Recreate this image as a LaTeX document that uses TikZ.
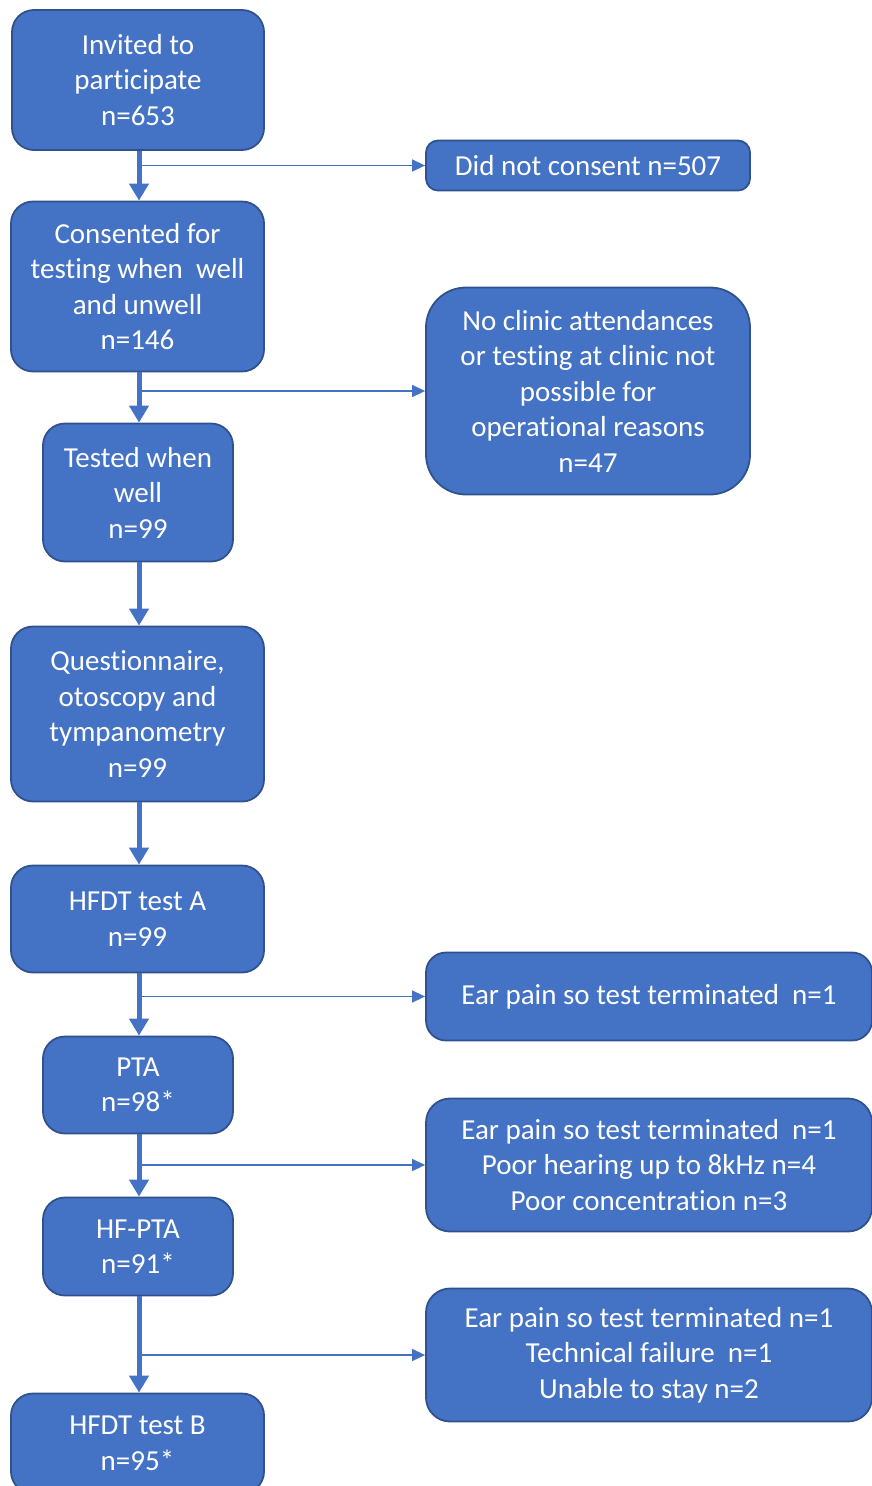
\documentclass[tikz,border=0pt]{standalone}
\usepackage{fontspec}
\setmainfont{Carlito}[Ligatures=NoCommon]
\usetikzlibrary{arrows.meta}
\definecolor{boxfill}{HTML}{4472C4}
\definecolor{boxedge}{HTML}{2F528F}
\begin{document}
\begin{tikzpicture}[x=1pt,y=-1pt,
  box/.style={draw=boxedge, fill=boxfill, line width=1.8pt, text=white,
    align=center, inner sep=0pt, rounded corners=#1,
    font=\fontsize{29}{35.5}\selectfont},
  box/.default=22pt,
  mainflow/.style={draw=boxfill, line width=5pt,
    -{Triangle[width=19pt,length=17pt]}},
  sideflow/.style={draw=boxfill, line width=1.6pt,
    -{Triangle[width=12pt,length=13pt]}}]
\useasboundingbox (0,0) rectangle (872,1486);
\clip (0,0) rectangle (872,1486);

% main column
\node[box, minimum width=252pt, minimum height=140pt] (invited) at (138,80)
  {Invited to\\participate\\n=653};
\node[box, minimum width=253pt, minimum height=170pt] (consented) at (137.5,286.5)
  {Consented for\\testing when\ \ well\\and unwell\\n=146};
\node[box, minimum width=190pt, minimum height=138pt] (tested) at (138,492.5)
  {Tested when\\well\\n=99};
\node[box, minimum width=253pt, minimum height=175pt] (quest) at (137.5,714)
  {Questionnaire,\\otoscopy and\\tympanometry\\n=99};
\node[box, minimum width=253pt, minimum height=107pt] (hfdta) at (137.5,919)
  {HFDT test A\\n=99};
\node[box, minimum width=190pt, minimum height=97pt] (pta) at (138,1085)
  {PTA\\n=98*};
\node[box, minimum width=190pt, minimum height=98pt] (hfpta) at (138,1246.5)
  {HF-PTA\\n=91*};
\node[box, minimum width=253pt, minimum height=100pt] (hfdtb) at (137.5,1443.5)
  {HFDT test B\\n=95*};

% exclusions
\node[box=12pt, minimum width=324pt, minimum height=50pt] (nocons) at (588,165.5)
  {Did not consent n=507};
\node[box=40pt, minimum width=324pt, minimum height=207pt] (noclinic) at (588,391)
  {No clinic attendances\\or testing at clinic not\\possible for\\operational reasons\\n=47};
\node[box=20pt, minimum width=446pt, minimum height=88pt] (ear1) at (649,996.5)
  {Ear pain so test terminated\ \ n=1};
\node[box=24pt, minimum width=446pt, minimum height=133pt] (ear2) at (649,1165)
  {Ear pain so test terminated\ \ n=1\\Poor hearing up to 8kHz n=4\\Poor concentration n=3};
\node[box=24pt, minimum width=446pt, minimum height=133pt] (ear3) at (649,1355)
  {Ear pain so test terminated n=1\\Technical failure\ \ n=1\\Unable to stay n=2};

% main flow
\draw[mainflow] ([xshift=1pt]invited.south) -- ([xshift=1pt]consented.north -| invited.south);
\draw[mainflow] ([xshift=1pt]consented.south -| tested.north) -- ([xshift=1pt]tested.north);
\draw[mainflow] ([xshift=1pt]tested.south) -- ([xshift=1pt]quest.north -| tested.south);
\draw[mainflow] ([xshift=1pt]quest.south -| tested.south) -- ([xshift=1pt]hfdta.north -| tested.south);
\draw[mainflow] ([xshift=1pt]hfdta.south -| pta.north) -- ([xshift=1pt]pta.north);
\draw[mainflow] ([xshift=1pt]pta.south) -- ([xshift=1pt]hfpta.north);
\draw[mainflow] ([xshift=1pt]hfpta.south) -- ([xshift=1pt]hfdtb.north -| hfpta.south);

% side branches
\draw[sideflow] ([xshift=2pt]nocons.west -| invited.south) -- (nocons.west);
\draw[sideflow] ([xshift=2pt]noclinic.west -| tested.north) -- (noclinic.west);
\draw[sideflow] ([xshift=2pt]ear1.west -| pta.north) -- (ear1.west);
\draw[sideflow] ([xshift=2pt]ear2.west -| pta.south) -- (ear2.west);
\draw[sideflow] ([xshift=2pt]ear3.west -| hfpta.south) -- (ear3.west);
\end{tikzpicture}
\end{document}
